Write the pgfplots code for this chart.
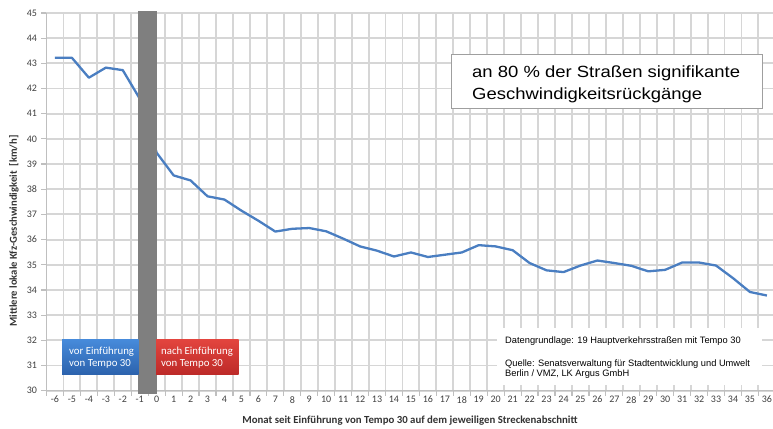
\documentclass[border=0pt]{standalone}
\usepackage{pgfplots}
\pgfplotsset{compat=1.18}
\usepackage{fontspec}
\setmainfont{Carlito}
\newfontfamily\arial{Liberation Sans}
\definecolor{gridc}{HTML}{D6D6D6}
\definecolor{axc}{HTML}{BFBFBF}
\definecolor{linec}{RGB}{74,126,193}
\definecolor{barc}{HTML}{7F7F7F}
\definecolor{tickc}{HTML}{404040}
\definecolor{bluetop}{RGB}{70,138,218}
\definecolor{bluebot}{RGB}{44,98,172}
\definecolor{redtop}{RGB}{226,68,62}
\definecolor{redbot}{RGB}{188,42,40}

\begin{document}
\begin{tikzpicture}[x=1pt,y=1pt]
\path[use as bounding box] (0,0) rectangle (773,428);
\begin{axis}[
  at={(46.5pt,37.3pt)}, anchor=south west,
  scale only axis, width=726.5pt, height=377.7pt,
  xmin=-6.5, xmax=36.36, ymin=30, ymax=45,
  axis lines*=left,
  axis line style={-, axc, line width=1.4pt},
  clip=false,
  xtick={-6.5,-5.5,-4.5,-3.5,-2.5,-1.5,-0.5,0.5,1.5,2.5,3.5,4.5,5.5,6.5,7.5,8.5,9.5,10.5,11.5,12.5,13.5,14.5,15.5,16.5,17.5,18.5,19.5,20.5,21.5,22.5,23.5,24.5,25.5,26.5,27.5,28.5,29.5,30.5,31.5,32.5,33.5,34.5,35.5},
  xticklabel=\empty,
  extra x ticks={-6,-5,-4,-3,-2,-1,0,1,2,3,4,5,6,7,8,9,10,11,12,13,14,15,16,17,18,19,20,21,22,23,24,25,26,27,28,29,30,31,32,33,34,35,36},
  extra x tick labels={-6,-5,-4,-3,-2,-1,0,1,2,3,4,5,6,7,8,9,10,11,12,13,14,15,16,17,18,19,20,21,22,23,24,25,26,27,28,29,30,31,32,33,34,35,36},
  extra x tick style={grid=none, major tick length=0pt, xticklabel style={yshift=-2pt}},
  ytick={30,31,32,33,34,35,36,37,38,39,40,41,42,43,44,45},
  yticklabels={30,31,32,33,34,35,36,37,38,39,40,41,42,43,44,45},
  tick align=outside,
  tick style={axc, line width=1.2pt},
  major tick length=5pt,
  xmajorgrids=true, ymajorgrids=true,
  grid style={gridc, line width=1.9pt},
  tick label style={font=\fontsize{10}{12}\selectfont, text=tickc},
  yticklabel style={xshift=-1pt},
]
\addplot[linec, line width=2.3pt, line join=round] coordinates {
(-6,43.22) (-5,43.22) (-4,42.43) (-3,42.83) (-2,42.73) (-1,41.6)
(0,39.45) (1,38.55) (2,38.35) (3,37.72) (4,37.59) (5,37.15) (6,36.75)
(7,36.32) (8,36.43) (9,36.46) (10,36.33) (11,36.04) (12,35.73) (13,35.56)
(14,35.33) (15,35.49) (16,35.31) (17,35.40) (18,35.49) (19,35.78) (20,35.73)
(21,35.58) (22,35.07) (23,34.78) (24,34.71) (25,34.97) (26,35.17) (27,35.07)
(28,34.96) (29,34.74) (30,34.80) (31,35.09) (32,35.09) (33,34.97) (34,34.47)
(35,33.92) (36,33.78)
};
\addplot[fill=barc, draw=none] coordinates {(-1.08,29.88) (0.02,29.88) (0.02,45.08) (-1.08,45.08)} -- cycle;
\end{axis}

% annotation box top right
\node[draw=gray!75, fill=white, line width=0.6pt, minimum width=311pt, minimum height=53.4pt, anchor=north west, inner sep=0pt] at (450.7,373.7) {};
\node[anchor=base west, inner sep=0pt, font=\arial\fontsize{16.2}{20}\selectfont] at (472,350.7) {\scalebox{1.14}[1]{an 80 \% der Straßen signifikante}};
\node[anchor=base west, inner sep=0pt, font=\arial\fontsize{16.2}{20}\selectfont] at (472,328.7) {\scalebox{1.14}[1]{Geschwindigkeitsrückgänge}};

% source note
\fill[white] (497,43) rectangle (762,100);
\node[anchor=base west, inner sep=0pt, font=\arial\fontsize{9.3}{11}\selectfont] at (505,84) {Datengrundlage: 19 Hauptverkehrsstraßen mit Tempo 30};
\node[anchor=base west, inner sep=0pt, font=\arial\fontsize{9.3}{11}\selectfont] at (505,61.3) {Quelle: Senatsverwaltung für Stadtentwicklung und Umwelt};
\node[anchor=base west, inner sep=0pt, font=\arial\fontsize{9.3}{11}\selectfont] at (505,51.3) {Berlin / VMZ, LK Argus GmbH};

% before / after boxes
\shade[top color=bluetop, bottom color=bluebot] (62,53) rectangle (138.5,88);
\shade[top color=redtop, bottom color=redbot] (156,53) rectangle (238.5,88);
\node[anchor=base west, inner sep=0pt, text=white, font=\fontsize{10.8}{13}\selectfont] at (69,73) {vor Einführung};
\node[anchor=base west, inner sep=0pt, text=white, font=\fontsize{10.8}{13}\selectfont] at (69,61.3) {von Tempo 30};
\node[anchor=base west, inner sep=0pt, text=white, font=\fontsize{10.8}{13}\selectfont] at (161,73) {nach Einführung};
\node[anchor=base west, inner sep=0pt, text=white, font=\fontsize{10.8}{13}\selectfont] at (161,61.3) {von Tempo 30};

% axis titles
\node[font=\bfseries\fontsize{10.8}{12}\selectfont, text=tickc!80!black] at (410,7) {Monat seit Einführung von Tempo 30 auf dem jeweiligen Streckenabschnitt};
\node[rotate=90, font=\bfseries\fontsize{10.6}{12}\selectfont, text=tickc!80!black] at (14,197) {Mittlere lokale Kfz-Geschwindigkeit\ \ [km/h]};
\end{tikzpicture}
\end{document}
